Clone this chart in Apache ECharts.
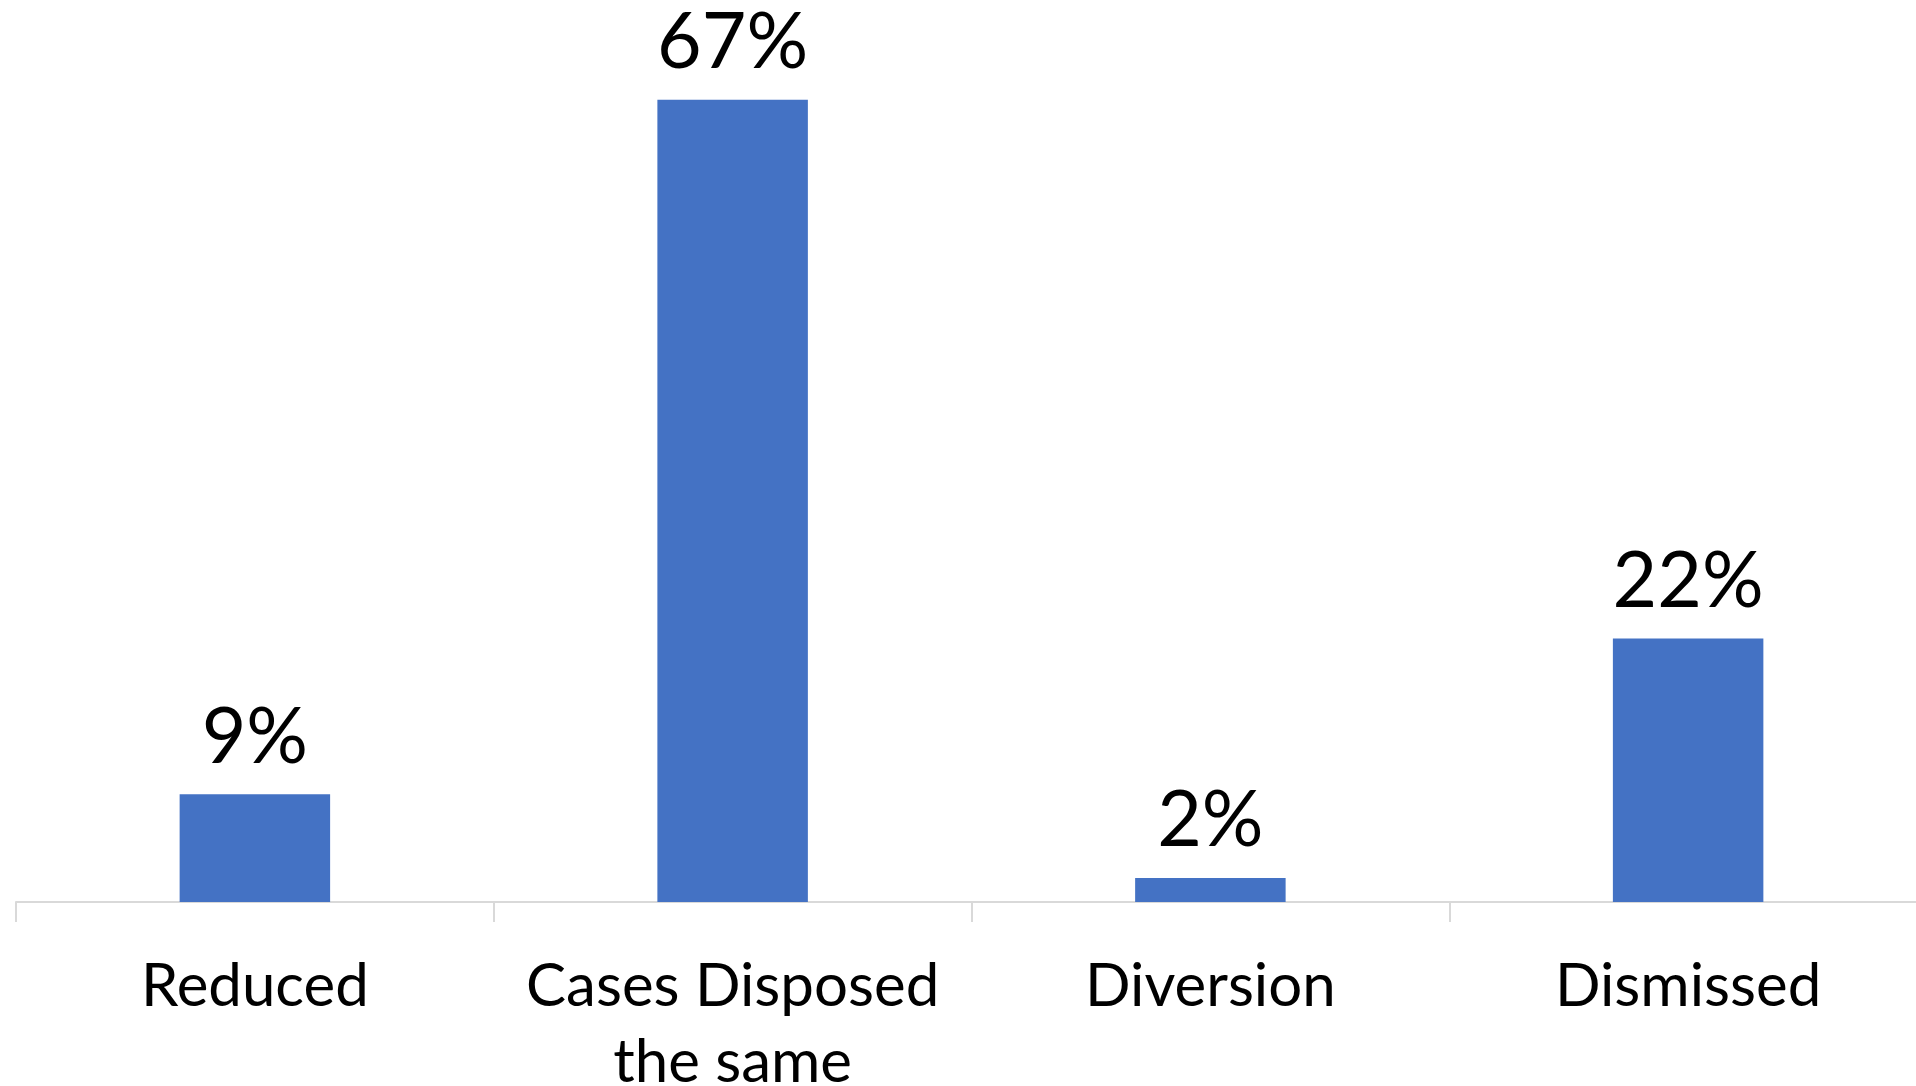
<!DOCTYPE html>
<html>
<head>
<meta charset="utf-8">
<script src="https://cdn.jsdelivr.net/npm/echarts@6/dist/echarts.min.js"></script>
<style>
  html, body { margin: 0; padding: 0; background: #ffffff; }
  #chart { width: 1916px; height: 1086px; }
</style>
</head>
<body>
<div id="chart"></div>
<script>
// Case outcomes, share of cases (%)
const categories = ['Reduced', 'Cases Disposed\nthe same', 'Diversion', 'Dismissed'];
const shares = [9, 67, 2, 22];

const chart = echarts.init(document.getElementById('chart'), null, { renderer: 'canvas' });

chart.setOption({
  animation: false,
  backgroundColor: '#ffffff',
  // the plot runs a little past the right edge of the canvas;
  // don't let the grid shrink to keep labels inside the canvas
  grid: {
    left: 16, width: 1911, top: 4, bottom: 184,
    containLabel: false,
    outerBoundsMode: 'none'
  },
  xAxis: {
    type: 'category',
    data: categories,
    boundaryGap: true,
    axisLine: { show: true, lineStyle: { color: '#d9d9d9', width: 2 } },
    axisTick: { show: true, length: 20, lineStyle: { color: '#d9d9d9', width: 2 } },
    axisLabel: {
      color: '#000000',
      fontFamily: 'Lato',
      fontSize: 60,
      lineHeight: 76,
      margin: 47,
      interval: 0
    }
  },
  yAxis: {
    type: 'value',
    min: 0,
    max: 75,
    show: false,
    splitLine: { show: false }
  },
  series: [{
    type: 'bar',
    data: shares,
    barWidth: '31.5%',
    itemStyle: { color: '#4472c4' },
    label: {
      show: true,
      position: 'top',
      distance: 18,
      formatter: '{c}%',
      color: '#000000',
      fontFamily: 'Lato',
      fontSize: 77
    }
  }]
});
</script>
</body>
</html>
